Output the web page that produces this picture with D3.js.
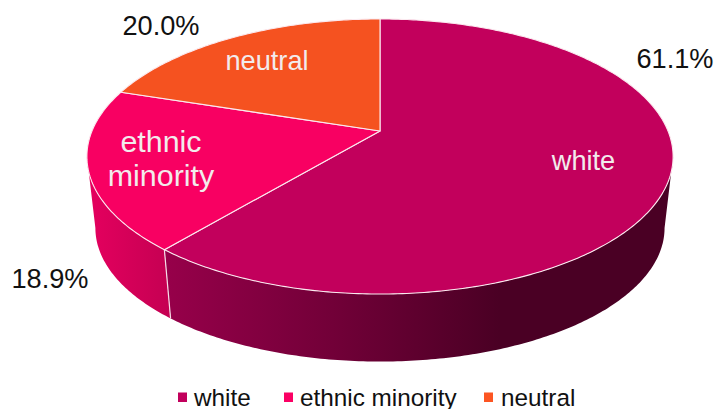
<!DOCTYPE html>
<html>
<head>
<meta charset="utf-8">
<script src="https://cdn.jsdelivr.net/npm/d3@7"></script>
<style>
html,body{margin:0;padding:0;background:#fff}
svg{display:block}
text{font-family:"Liberation Sans",Arial,sans-serif}
</style>
</head>
<body>
<svg id="c" width="717" height="409"></svg>
<script>
const categories = ["white", "ethnic minority", "neutral"];
const shares = [61.1, 18.9, 20.0];
const shareLabels = ["61.1%", "18.9%", "20.0%"];
const topColors = ["#c2005c", "#f80062", "#f55220"];
const legendColors = ["#c2005c", "#fb0064", "#fc5522"];
const sliceLabelLines = [["white"], ["ethnic", "minority"], ["neutral"]];

// Layout of the tilted disc
const apex = {x: 380, y: 131};
const tilt = 0.1855, scaleU = 288, scaleV = 132.8;
const ellipseCentre = {x: 379, y: 156.5};
const bottomScale = 0.971, bottomCentreY = 228;
const tangent = Math.acos(-tilt); // where the rim's silhouette turns

const svg = d3.select("#c");
const pie = d3.pie().sort(null).value(d => d).startAngle(0).endAngle(2 * Math.PI);
const arcs = pie(shares);

function topPt(a) {
  const u = Math.sin(a), v = Math.cos(a), w = 1 + tilt * v;
  return [apex.x + scaleU * u / w, apex.y - scaleV * v / w];
}
function bottomPt(a) {
  const p = topPt(a);
  return [ellipseCentre.x + (p[0] - ellipseCentre.x) * bottomScale,
          bottomCentreY + (p[1] - ellipseCentre.y) * bottomScale];
}
function samples(a0, a1) {
  const n = Math.max(4, Math.ceil(Math.abs(a1 - a0) * 80));
  return d3.range(n + 1).map(i => a0 + (a1 - a0) * i / n);
}
const line = d3.line();

// Wall gradients
const defs = svg.append("defs");
function gradient(id, x1, x2, stops) {
  const g = defs.append("linearGradient").attr("id", id)
    .attr("gradientUnits", "userSpaceOnUse")
    .attr("x1", x1).attr("x2", x2).attr("y1", 0).attr("y2", 0);
  stops.forEach(s => g.append("stop").attr("offset", s[0]).attr("stop-color", s[1]));
}
gradient("wallWhite", 165, 500, [[0, "#97004a"], [0.5, "#720038"], [1, "#4a0024"]]);
gradient("wallEthnic", 90, 172, [[0, "#e4005e"], [1, "#c40052"]]);

// Walls: only the near part of the rim is visible
const seam = arcs[0].endAngle;                 // white / ethnic seam
const wallSpans = [
  {from: tangent, to: seam, fill: "url(#wallWhite)"},
  {from: seam, to: 2 * Math.PI - tangent, fill: "url(#wallEthnic)"}
];
svg.selectAll("path.wall").data(wallSpans).join("path")
  .attr("class", "wall")
  .attr("fill", d => d.fill)
  .attr("d", d => {
    const s = samples(d.from, d.to);
    return line(s.map(topPt).concat(s.slice().reverse().map(bottomPt))) + "Z";
  });
svg.append("path")
  .attr("d", line([topPt(seam), bottomPt(seam)]))
  .attr("stroke", "#f6dfe8").attr("stroke-width", 1.2).attr("fill", "none");

// Top faces
svg.selectAll("path.slice").data(arcs).join("path")
  .attr("class", "slice")
  .attr("fill", (d, i) => topColors[i])
  .attr("stroke", "#fbe9ef").attr("stroke-width", 1.1).attr("stroke-linejoin", "round")
  .attr("d", d => line([[apex.x, apex.y]].concat(samples(d.startAngle, d.endAngle).map(topPt))) + "Z");

// Slice labels
const labelPos = [{x: 583.5, y: 169.5, size: 27.2}, {x: 161, y: 152, dy: 34, size: 30.4}, {x: 267, y: 70, size: 27.2}];
sliceLabelLines.forEach((lines, i) => {
  lines.forEach((t, j) => {
    svg.append("text").attr("x", labelPos[i].x)
      .attr("y", labelPos[i].y + j * (labelPos[i].dy || 0))
      .attr("text-anchor", "middle").attr("font-size", labelPos[i].size)
      .attr("fill", "#f2ebec").text(t);
  });
});

// Percent labels
const pctPos = [{x: 675, y: 67.5}, {x: 50, y: 288}, {x: 161, y: 35}];
svg.selectAll("text.pct").data(shareLabels).join("text")
  .attr("class", "pct")
  .attr("x", (d, i) => pctPos[i].x).attr("y", (d, i) => pctPos[i].y)
  .attr("text-anchor", "middle").attr("font-size", 27.2).attr("fill", "#111")
  .text(d => d);

// Legend
const legendX = [{sq: 178, tx: 194}, {sq: 284, tx: 300}, {sq: 484, tx: 501}];
categories.forEach((c, i) => {
  svg.append("rect").attr("x", legendX[i].sq).attr("y", 392.5)
    .attr("width", 9).attr("height", 9.5).attr("fill", legendColors[i]);
  svg.append("text").attr("x", legendX[i].tx).attr("y", 405.5)
    .attr("font-size", 24.3).attr("fill", "#111").text(c);
});
</script>
</body>
</html>
